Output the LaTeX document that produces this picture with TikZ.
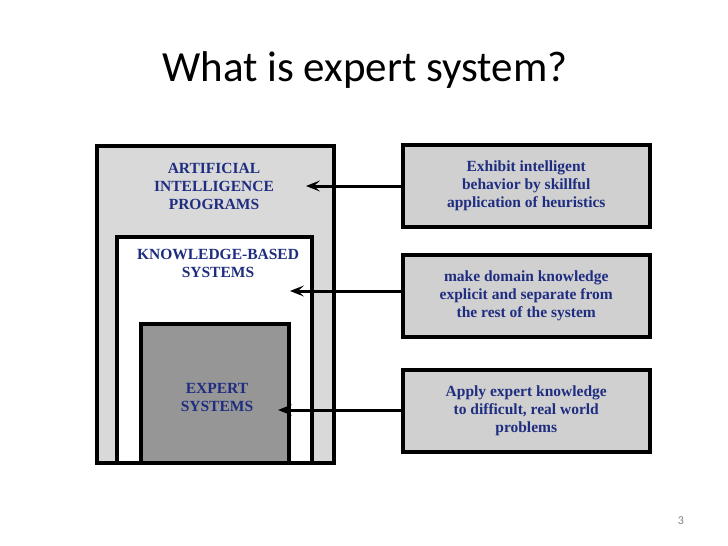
\documentclass[tikz,border=0pt]{standalone}
\usepackage{fontspec}
\setmainfont{Liberation Serif}
\newfontfamily\titlefont{Carlito}
\usetikzlibrary{arrows.meta}
\definecolor{txtblue}{HTML}{1F2D80}
\definecolor{lgray}{HTML}{D9D9D9}
\definecolor{dgray}{HTML}{969696}
\definecolor{rgray}{HTML}{D0D0D0}
\begin{document}
\begin{tikzpicture}[x=1pt,y=-1pt,
  lbl/.style={text=txtblue,font=\bfseries\fontsize{15.5}{18}\selectfont,align=center},
  rbox/.style={draw,line width=3.5pt,fill=rgray,minimum width=247pt,minimum height=82pt,anchor=north west,inner sep=0pt},
  arr/.style={line width=3pt,-{Stealth[length=14pt,width=11pt,inset=6pt]}}]
\useasboundingbox (0,0) rectangle (728,546);
\node[font=\titlefont\fontsize{43}{48}\selectfont] (title) at (365,70) {What is expert system?};
\filldraw[line width=4pt,fill=lgray] (97,146) rectangle (334,463);
\filldraw[line width=4pt,fill=white] (117,237) rectangle (312,463);
\filldraw[line width=4pt,fill=dgray] (141,324) rectangle (289,463);
\node[lbl] (ai) at (214,186) {ARTIFICIAL\\INTELLIGENCE\\PROGRAMS};
\node[lbl] (kb) at (218,263) {KNOWLEDGE-BASED\\SYSTEMS};
\node[lbl] (es) at (217,397) {EXPERT\\SYSTEMS};
\node[rbox] (r1) at (401,143) {};
\node[rbox] (r2) at (401,253) {};
\node[rbox] (r3) at (401,368) {};
\node[lbl] at (r1) {Exhibit intelligent\\behavior by skillful\\application of heuristics};
\node[lbl] at (r2) {make domain knowledge\\explicit and separate from\\the rest of the system};
\node[lbl] at (r3) {Apply expert knowledge\\to difficult, real world\\problems};
\coordinate (a1) at (306,186);
\coordinate (a2) at (290,291);
\coordinate (a3) at (278,410);
\draw[arr] (r1.west |- a1) -- (a1);
\draw[arr] (r2.west |- a2) -- (a2);
\draw[arr] (r3.west |- a3) -- (a3);
\node[text=gray,font=\titlefont\fontsize{12}{14}\selectfont] (pg) at (681,521) {3};
\end{tikzpicture}
\end{document}
